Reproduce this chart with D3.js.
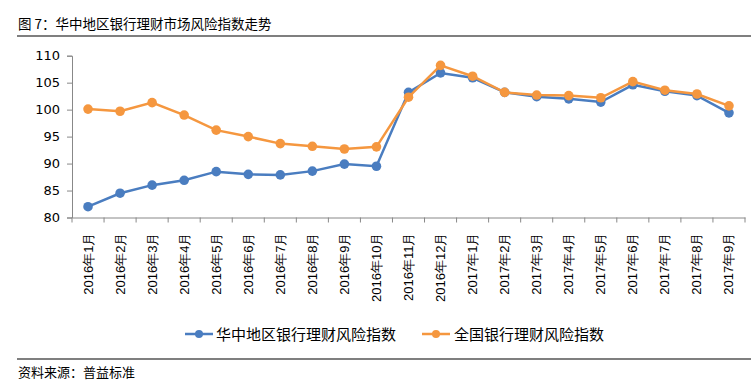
<!DOCTYPE html>
<html><head><meta charset="utf-8">
<script src="https://cdn.jsdelivr.net/npm/d3@7"></script>
<style>
html,body{margin:0;padding:0;background:#fff;}
svg{display:block;font-family:"Noto Sans CJK SC","Microsoft YaHei",sans-serif;}
</style></head>
<body>
<script>
const titleText = "图 7：华中地区银行理财市场风险指数走势";
const sourceText = "资料来源：普益标准";
const categories = ["2016年1月","2016年2月","2016年3月","2016年4月","2016年5月","2016年6月","2016年7月","2016年8月","2016年9月","2016年10月","2016年11月","2016年12月","2017年1月","2017年2月","2017年3月","2017年4月","2017年5月","2017年6月","2017年7月","2017年8月","2017年9月"];
const seriesNames = ["华中地区银行理财风险指数","全国银行理财风险指数"];
const centralValues = [82.0,84.5,86.0,86.9,88.5,88.0,87.9,88.6,89.9,89.5,103.2,106.8,105.9,103.2,102.4,102.0,101.4,104.6,103.4,102.6,99.4];
const nationalValues = [100.1,99.7,101.3,99.0,96.2,95.0,93.7,93.2,92.7,93.1,102.3,108.2,106.2,103.2,102.7,102.6,102.2,105.2,103.6,102.9,100.7];
const yTicks = [80,85,90,95,100,105,110];
const colors = ["#4a7dc0","#f5973f"];

(function(){
const W=751,H=384;
const svg=d3.select("body").append("svg").attr("width",W).attr("height",H);

svg.append("text").attr("x",18).attr("y",29).attr("font-size",13.5).attr("fill","#000").text(titleText);
svg.append("line").attr("x1",17).attr("x2",751).attr("y1",36).attr("y2",36).attr("stroke","#000").attr("stroke-width",1.2);

const pL=72,pR=745,pT=55.7,pB=217.5;
const x=d3.scaleBand().domain(categories).range([pL,pR]);
const y=d3.scaleLinear().domain([80,110]).range([pB,pT]);

const ya=svg.append("g").attr("transform",`translate(${pL},0)`)
  .call(d3.axisLeft(y).tickValues(yTicks).tickSize(5).tickPadding(7));
ya.selectAll("path,line").attr("stroke","#888");
ya.selectAll("text").attr("font-size",13).attr("fill","#000").attr("font-family","DejaVu Sans, Liberation Sans, sans-serif");

const xa=svg.append("g").attr("transform",`translate(0,${pB})`)
  .call(d3.axisBottom(x).tickSize(0).tickSizeOuter(0).tickFormat(""));
xa.select("path").attr("stroke","#888");
const bounds=categories.map(c=>x(c)).concat([pR]);
xa.selectAll(".bt").data(bounds).enter().append("line").attr("class","bt")
  .attr("x1",d=>d).attr("x2",d=>d).attr("y1",0).attr("y2",5).attr("stroke","#888");
xa.selectAll(".xl").data(categories).enter().append("text").attr("class","xl")
  .attr("transform",d=>`translate(${x(d)+x.bandwidth()/2+4.5},15) rotate(-90)`)
  .attr("text-anchor","end").attr("font-size",13).attr("fill","#000").text(d=>d);

const all=[centralValues,nationalValues];
const line=d3.line().x((d,i)=>x(categories[i])+x.bandwidth()/2).y(d=>y(d));
all.forEach((vals,k)=>{
  svg.append("path").datum(vals).attr("d",line).attr("fill","none").attr("stroke",colors[k]).attr("stroke-width",2.5);
  svg.selectAll(".m"+k).data(vals).enter().append("circle").attr("class","m"+k)
    .attr("cx",(d,i)=>x(categories[i])+x.bandwidth()/2).attr("cy",d=>y(d)).attr("r",4.8).attr("fill",colors[k]);
});

const lg=[{x:185,tx:216},{x:422,tx:454}];
seriesNames.forEach((n,k)=>{
  const g=svg.append("g");
  g.append("line").attr("x1",lg[k].x).attr("x2",lg[k].x+28).attr("y1",334).attr("y2",334).attr("stroke",colors[k]).attr("stroke-width",2.5);
  g.append("circle").attr("cx",lg[k].x+14).attr("cy",334).attr("r",4).attr("fill",colors[k]);
  g.append("text").attr("x",lg[k].tx).attr("y",339.5).attr("font-size",15).attr("fill","#000").text(n);
});

svg.append("line").attr("x1",17).attr("x2",751).attr("y1",359).attr("y2",359).attr("stroke","#000").attr("stroke-width",1.2);
svg.append("text").attr("x",18).attr("y",377).attr("font-size",13).attr("fill","#000").text(sourceText);
})();
</script>
</body></html>
